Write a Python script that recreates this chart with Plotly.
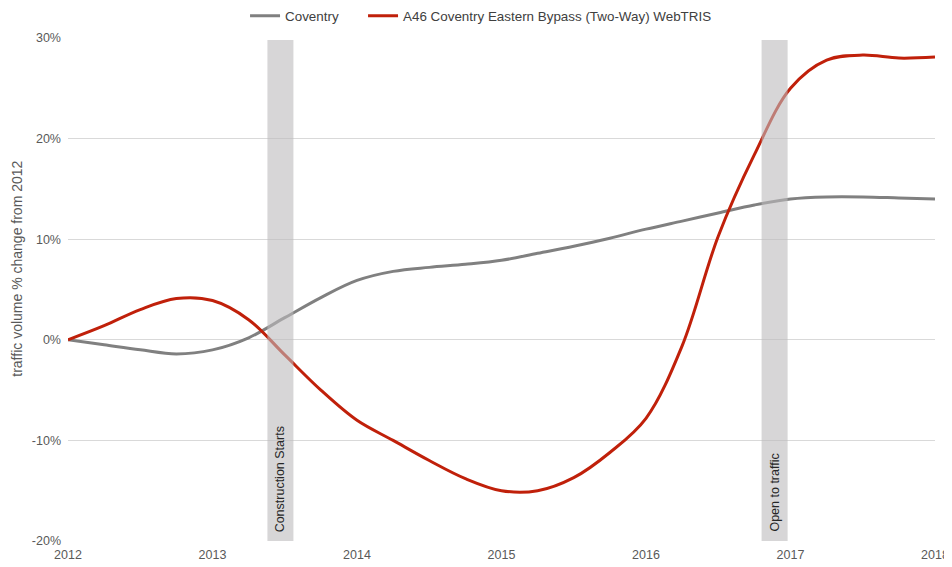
import plotly.graph_objects as go

years = [2012.0, 2012.25, 2012.5, 2012.75, 2013.0, 2013.25, 2013.5, 2013.75,
         2014.0, 2014.25, 2014.5, 2014.75, 2015.0, 2015.25, 2015.5, 2015.75,
         2016.0, 2016.25, 2016.5, 2016.75, 2017.0, 2017.25, 2017.5, 2017.75, 2018.0]

coventry = [0.0, -0.5, -1.0, -1.4, -1.0, 0.2, 2.2, 4.2,
            5.9, 6.8, 7.2, 7.5, 7.9, 8.6, 9.3, 10.1,
            11.0, 11.8, 12.6, 13.4, 14.0, 14.2, 14.2, 14.1, 14.0]

a46 = [0.0, 1.4, 3.0, 4.1, 3.9, 2.0, -1.5, -5.0,
       -8.0, -10.0, -12.0, -13.8, -15.0, -15.0, -13.7, -11.2,
       -7.8, -0.6, 10.3, 18.4, 25.0, 27.8, 28.3, 28.0, 28.1]

events = ["Construction Starts", "Open to traffic"]
event_start = [2013.38, 2016.80]
event_end = [2013.56, 2016.98]

series_names = ["Coventry", "A46 Coventry Eastern Bypass (Two-Way) WebTRIS"]
series_colors = ["#808080", "#C0200A"]
legend_ids = ["legend", "legend2"]

fig = go.Figure()
for name, vals, col, lg in zip(series_names, [coventry, a46], series_colors, legend_ids):
    fig.add_trace(go.Scatter(x=years, y=vals, name=name, mode="lines", legend=lg,
                             line=dict(color=col, width=3, shape="spline", smoothing=1.0)))

for label, s, e in zip(events, event_start, event_end):
    fig.add_shape(type="rect", xref="x", yref="y", x0=s, x1=e, y0=-20, y1=29.8,
                  fillcolor="rgba(188,186,188,0.6)", line=dict(width=0), layer="above")
    fig.add_annotation(x=(s + e) / 2, y=-19.3, xref="x", yref="y", text=label,
                       textangle=-90, showarrow=False, yanchor="bottom", xanchor="center",
                       font=dict(size=12.5, color="#262626"))

# y-axis title as annotation for exact placement
fig.add_annotation(x=-0.059, y=0.541, xref="paper", yref="paper",
                   text="traffic volume % change from 2012", textangle=-90,
                   showarrow=False, xanchor="center", yanchor="middle",
                   font=dict(size=14, color="#595959"))

legend_common = dict(orientation="h", xanchor="left", y=1 + 22 / 503, yanchor="middle",
                     bgcolor="rgba(0,0,0,0)", font=dict(size=13.4, color="#404040"))

fig.update_layout(
    width=944, height=559,
    margin=dict(l=60, r=17, t=30, b=26, autoexpand=False),
    paper_bgcolor="white", plot_bgcolor="white",
    font=dict(family="Liberation Sans, Arial, sans-serif", size=12.5, color="#595959"),
    legend=dict(x=0.2042, **legend_common),
    legend2=dict(x=0.3403, **legend_common),
    showlegend=True,
)
fig.update_xaxes(range=[2012, 2018], tickvals=[2012, 2013, 2014, 2015, 2016, 2017, 2018],
                 ticktext=["2012", "2013", "2014", "2015", "2016", "2017", "2018"],
                 showgrid=False, zeroline=False, showline=False, ticks="",
                 automargin=False, ticklabelstandoff=4,
                 tickfont=dict(size=12.5, color="#595959"))
fig.update_yaxes(range=[-20, 30], tickvals=[-20, -10, 0, 10, 20, 30],
                 ticktext=["-20%", "-10%", "0%", "10%", "20%", "30%"],
                 showgrid=True, gridcolor="#d9d9d9", gridwidth=1, zeroline=False,
                 showline=False, ticks="", ticklabelstandoff=6, automargin=False,
                 tickfont=dict(size=12.5, color="#595959"))

fig.write_html("out.html")
